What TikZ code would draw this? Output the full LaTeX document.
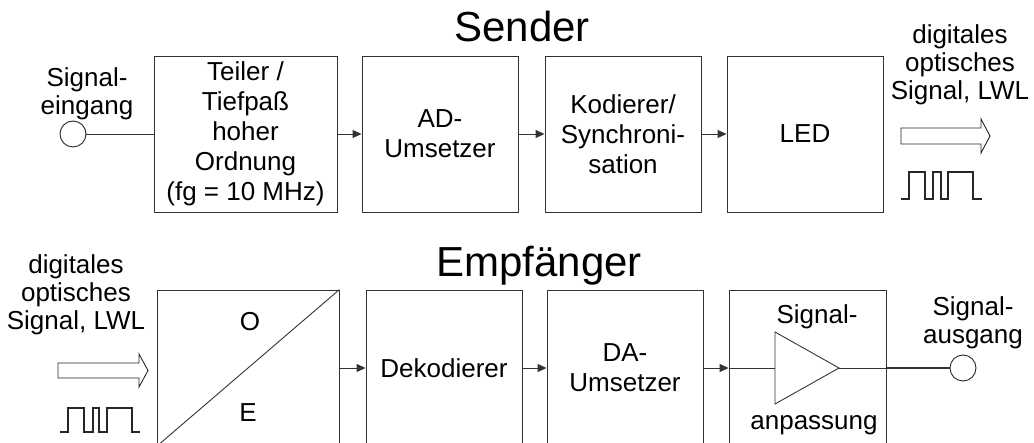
\documentclass[tikz,border=0pt]{standalone}
\usepackage{fontspec}
\setmainfont{Liberation Sans}
\usetikzlibrary{arrows.meta}
\begin{document}
\begin{tikzpicture}[x=1pt,y=-1pt,
  blk/.style={draw=black!80,line width=0.9pt,inner sep=0pt,align=center,font=\fontsize{26}{30}\selectfont},
  txt/.style={inner sep=0pt,align=center,font=\fontsize{26}{28}\selectfont},
  ttl/.style={inner sep=0pt,font=\fontsize{42}{48}\selectfont,anchor=base},
  conn/.style={draw=black!80,line width=0.9pt},
  arr/.style={conn,-{Triangle[length=9pt,width=8pt]}},
  term/.style={circle,draw=black!85,line width=0.9pt,minimum size=26pt,inner sep=0pt},
  hollow/.style={draw=black!85,line width=0.9pt,fill=white},
  pulse/.style={draw=black!85,line width=1.1pt}]
\useasboundingbox (0,0) rectangle (1034,443);
\clip (0,0) rectangle (1034,443);

% ---------- Sender ----------
\node[ttl] (tsend) at (522,42) {Sender};
\node[txt] (lin) at (87,94) {Signal-\\eingang};
\node[term] (inc) at (73,134) {};
\node[blk,minimum width=183pt,minimum height=156pt] (b1) at (245.5,134) {Teiler /\\Tiefpaß\\hoher\\Ordnung\\(fg = 10 MHz)};
\node[blk,minimum width=156pt,minimum height=156pt] (b2) at (440,134) {AD-\\Umsetzer};
\node[blk,minimum width=156pt,minimum height=156pt] (b3) at (623,134) {Kodierer/\\Synchroni-\\sation};
\node[blk,minimum width=156pt,minimum height=156pt] (b4) at (805,134) {LED};
\draw[conn] (inc.east) -- (b1.west);
\draw[arr] (b1.east) -- (b2.west);
\draw[arr] (b2.east) -- (b3.west);
\draw[arr] (b3.east) -- (b4.west);
\node[txt] (lout) at (960,64.5) {digitales\\optisches\\Signal, LWL};
\draw[hollow] (901,128) -- (981,128) -- (981,119) -- (990,136) -- (981,153) -- (981,144) -- (901,144) -- cycle;
\draw[pulse] (901,199) -- (909,199) -- (909,172) -- (925,172) -- (925,199) -- (933,199) -- (933,172) -- (941,172) -- (941,199) -- (948,199) -- (948,172) -- (973,172) -- (973,199) -- (982,199);

% ---------- Empfaenger ----------
\node[ttl] (tempf) at (539,277) {Empfänger};
\node[txt] (lin2) at (76,294.5) {digitales\\optisches\\Signal, LWL};
\draw[hollow] (58,363) -- (139,363) -- (139,354) -- (148,370.5) -- (139,387) -- (139,378) -- (58,378) -- cycle;
\draw[pulse] (60,432) -- (68,432) -- (68,408) -- (84,408) -- (84,432) -- (93,432) -- (93,408) -- (99,408) -- (99,432) -- (107,432) -- (107,408) -- (132,408) -- (132,432) -- (140,432);

\node[blk,minimum width=182pt,minimum height=156pt] (oe) at (248,368) {};
\draw[conn] (oe.south west) -- (oe.north east);
\node[txt] (lo) at (250,322) {O};
\node[txt] (le) at (248,413) {E};
\node[blk,minimum width=156pt,minimum height=156pt] (dek) at (444,368) {Dekodierer};
\node[blk,minimum width=156pt,minimum height=156pt] (da) at (625,368) {DA-\\Umsetzer};
\node[blk,minimum width=157pt,minimum height=156pt] (amp) at (807.5,368) {};
\node[txt,anchor=base] (lsig) at (817,324) {Signal-};
\node[txt,anchor=base] (lanp) at (814,430) {anpassung};
\coordinate (ampin) at (775,368);
\coordinate (ampout) at (839,368);
\draw[conn] (775,332) -- (ampout) -- (775,404) -- cycle;
\draw[arr] (oe.east) -- (dek.west);
\draw[arr] (dek.east) -- (da.west);
\draw[arr] (da.east) -- (amp.west);
\draw[conn] (amp.west) -- (ampin);
\node[term] (outc) at (963,368) {};
\draw[conn] (ampout) -- (amp.east);
\draw[conn,line width=1.3pt] (amp.east) -- (outc.west);
\node[txt] (lout2) at (973,323) {Signal-\\ausgang};
\end{tikzpicture}
\end{document}
